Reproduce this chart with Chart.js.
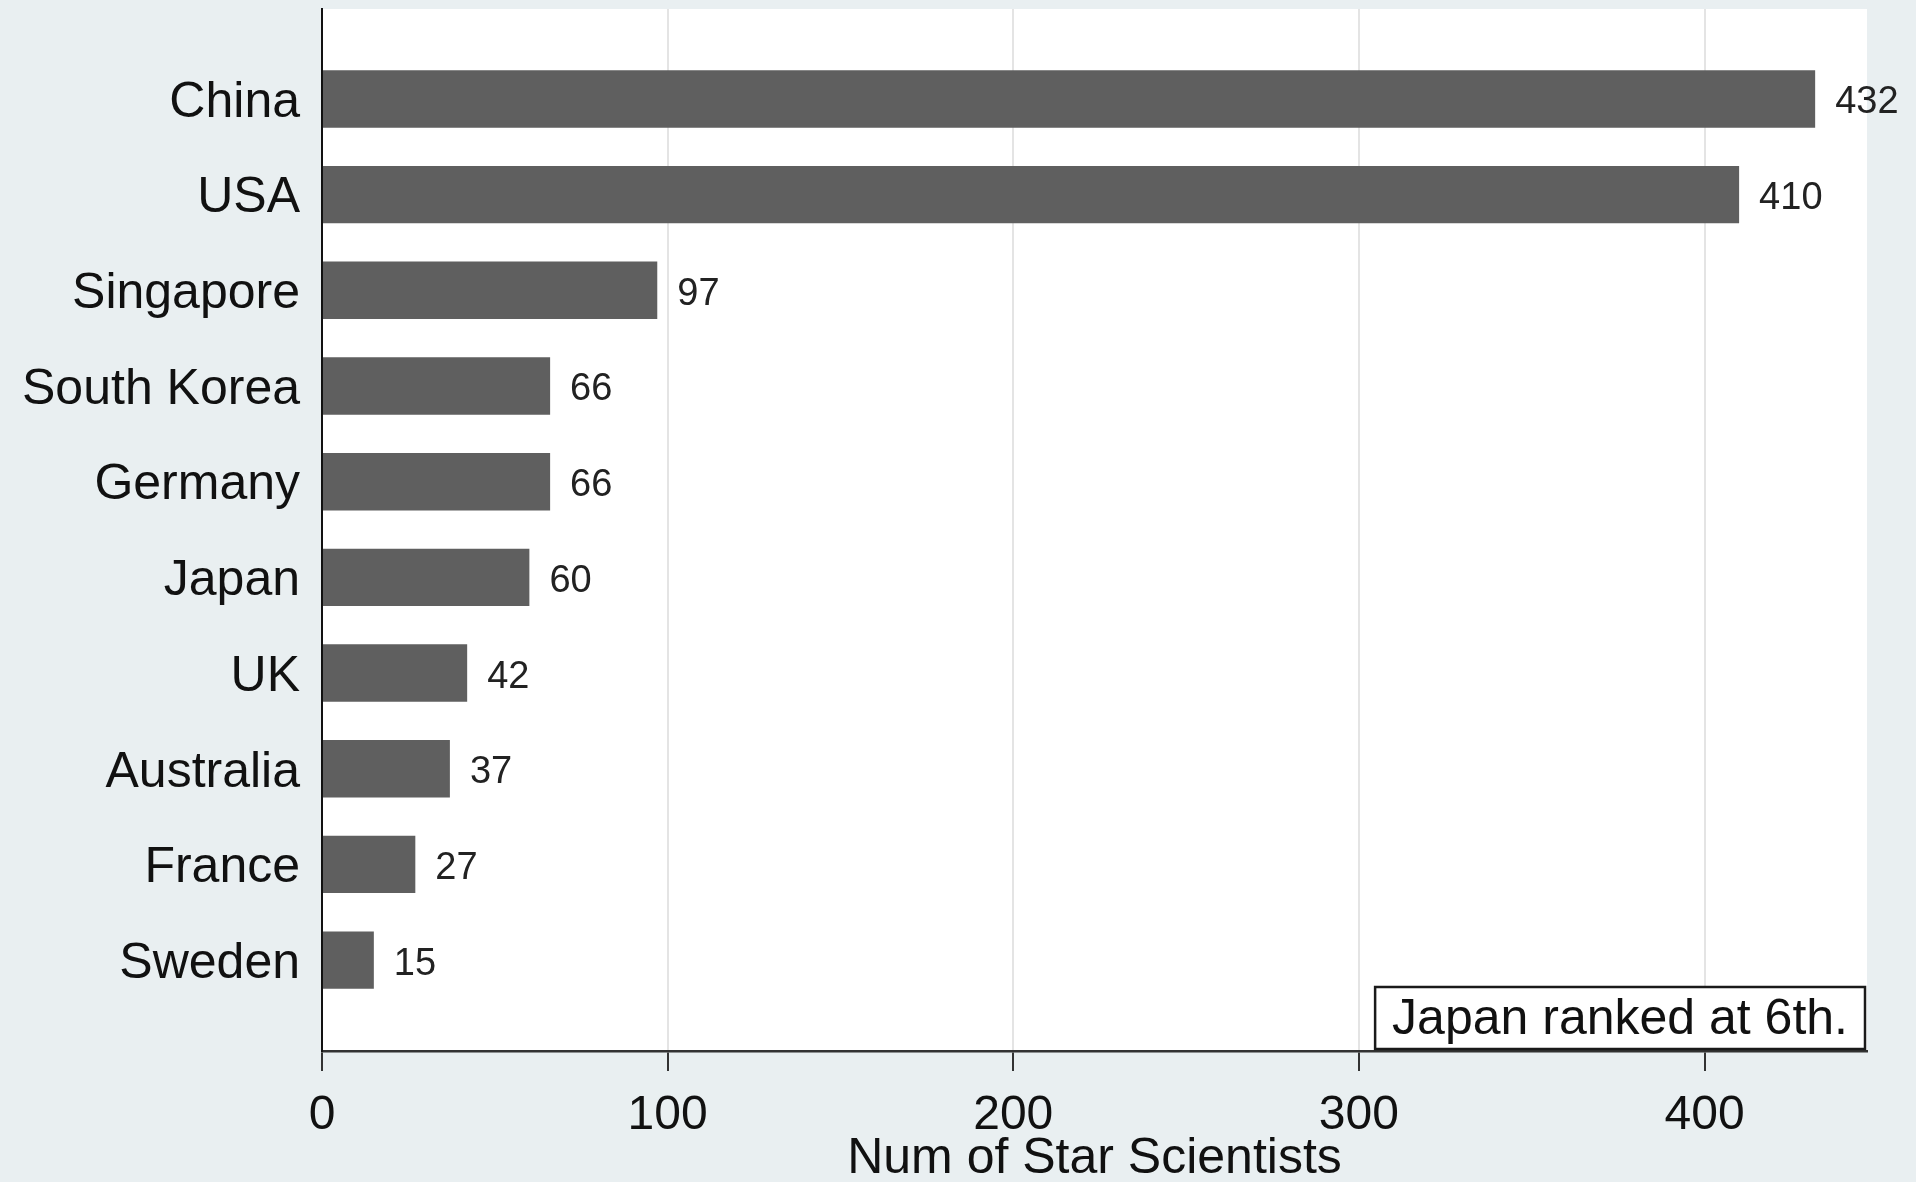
<!DOCTYPE html>
<html>
<head>
<meta charset="utf-8">
<script src="https://cdn.jsdelivr.net/npm/chart.js@4"></script>
<style>
  html, body { margin: 0; padding: 0; background: #e9eff1; }
  #wrap { width: 1916px; height: 1182px; position: relative; }
  canvas { display: block; }
</style>
</head>
<body>
<div id="wrap"><canvas id="c" width="1916" height="1182"></canvas></div>
<script>
const categories = ['China', 'USA', 'Singapore', 'South Korea', 'Germany', 'Japan', 'UK', 'Australia', 'France', 'Sweden'];
const values = [432, 410, 97, 66, 66, 60, 42, 37, 27, 15];
const xTicks = [0, 100, 200, 300, 400];
const axisTitle = 'Num of Star Scientists';
const noteText = 'Japan ranked at 6th.';

const FONT = '"Liberation Sans", Arial, Helvetica, sans-serif';

const points = values.map((v, i) => ({ x: v, y: i + 1 }));

const bgPlugin = {
  id: 'bg',
  beforeDraw(chart) {
    const { ctx, chartArea: a } = chart;
    ctx.save();
    ctx.fillStyle = '#e9eff1';
    ctx.fillRect(0, 0, chart.width, chart.height);
    ctx.fillStyle = '#ffffff';
    ctx.fillRect(a.left, a.top, a.right - a.left, a.bottom - a.top);
    ctx.restore();
  }
};

const valueLabels = {
  id: 'valueLabels',
  afterDatasetsDraw(chart) {
    const { ctx } = chart;
    const meta = chart.getDatasetMeta(0);
    ctx.save();
    ctx.font = '38px ' + FONT;
    ctx.fillStyle = '#222222';
    ctx.textAlign = 'left';
    ctx.textBaseline = 'middle';
    meta.data.forEach((bar, i) => {
      ctx.fillText(String(values[i]), bar.x + 20, bar.y + 4);
    });
    ctx.restore();
  }
};

const notePlugin = {
  id: 'note',
  afterDraw(chart) {
    const { ctx, chartArea: a } = chart;
    ctx.save();
    ctx.font = '50px ' + FONT;
    const w = ctx.measureText(noteText).width;
    const right = a.right - 2;
    const bottom = a.bottom - 2;
    const boxW = w + 34;
    const boxH = 62;
    const left = right - boxW;
    const top = bottom - boxH;
    ctx.fillStyle = '#ffffff';
    ctx.fillRect(left, top, boxW, boxH);
    ctx.strokeStyle = '#1a1a1a';
    ctx.lineWidth = 2.5;
    ctx.strokeRect(left, top, boxW, boxH);
    ctx.fillStyle = '#111111';
    ctx.textAlign = 'left';
    ctx.textBaseline = 'middle';
    ctx.fillText(noteText, left + 17, top + boxH / 2 + 2);
    ctx.restore();
  }
};

new Chart(document.getElementById('c'), {
  type: 'bar',
  data: {
    datasets: [{
      data: points,
      backgroundColor: '#5f5f5f',
      borderWidth: 0,
      categoryPercentage: 0.8,
      barPercentage: 0.75
    }]
  },
  options: {
    indexAxis: 'y',
    responsive: false,
    animation: false,
    devicePixelRatio: 1,
    layout: { padding: { top: 9, right: 49, left: 0, bottom: 0 } },
    plugins: {
      legend: { display: false },
      tooltip: { enabled: false },
      title: { display: false }
    },
    scales: {
      x: {
        type: 'linear',
        position: 'bottom',
        min: 0,
        max: 447,
        offset: false,
        afterBuildTicks(scale) { scale.ticks = xTicks.map(v => ({ value: v })); },
        afterFit(scale) { scale.height = 131; scale.paddingLeft = 0; scale.paddingRight = 0; },
        grid: {
          color: '#e4e4e4',
          lineWidth: 2,
          drawTicks: true,
          tickLength: 20,
          tickColor: '#333333',
          tickWidth: 2
        },
        border: { display: true, color: '#333333', width: 2.5 },
        ticks: {
          font: { family: FONT, size: 48 },
          color: '#111111',
          padding: 16,
          maxRotation: 0,
          autoSkip: false
        },
        title: {
          display: true,
          text: axisTitle,
          font: { family: FONT, size: 50, lineHeight: 1 },
          color: '#111111',
          padding: { top: 0, bottom: -2 }
        }
      },
      y: {
        type: 'linear',
        position: 'left',
        reverse: true,
        offset: false,
        min: 0.06,
        max: 10.95,
        afterBuildTicks(scale) { scale.ticks = categories.map((c, i) => ({ value: i + 1 })); },
        afterFit(scale) { scale.width = 322; scale.paddingTop = 0; scale.paddingBottom = 0; },
        grid: { drawOnChartArea: false, drawTicks: false, offset: false },
        border: { display: true, color: '#111111', width: 2 },
        ticks: {
          font: { family: FONT, size: 50 },
          color: '#111111',
          padding: 22,
          labelOffset: 4,
          autoSkip: false,
          callback(v) { return categories[Math.round(v) - 1]; }
        }
      }
    }
  },
  plugins: [bgPlugin, valueLabels, notePlugin]
});
</script>
</body>
</html>
